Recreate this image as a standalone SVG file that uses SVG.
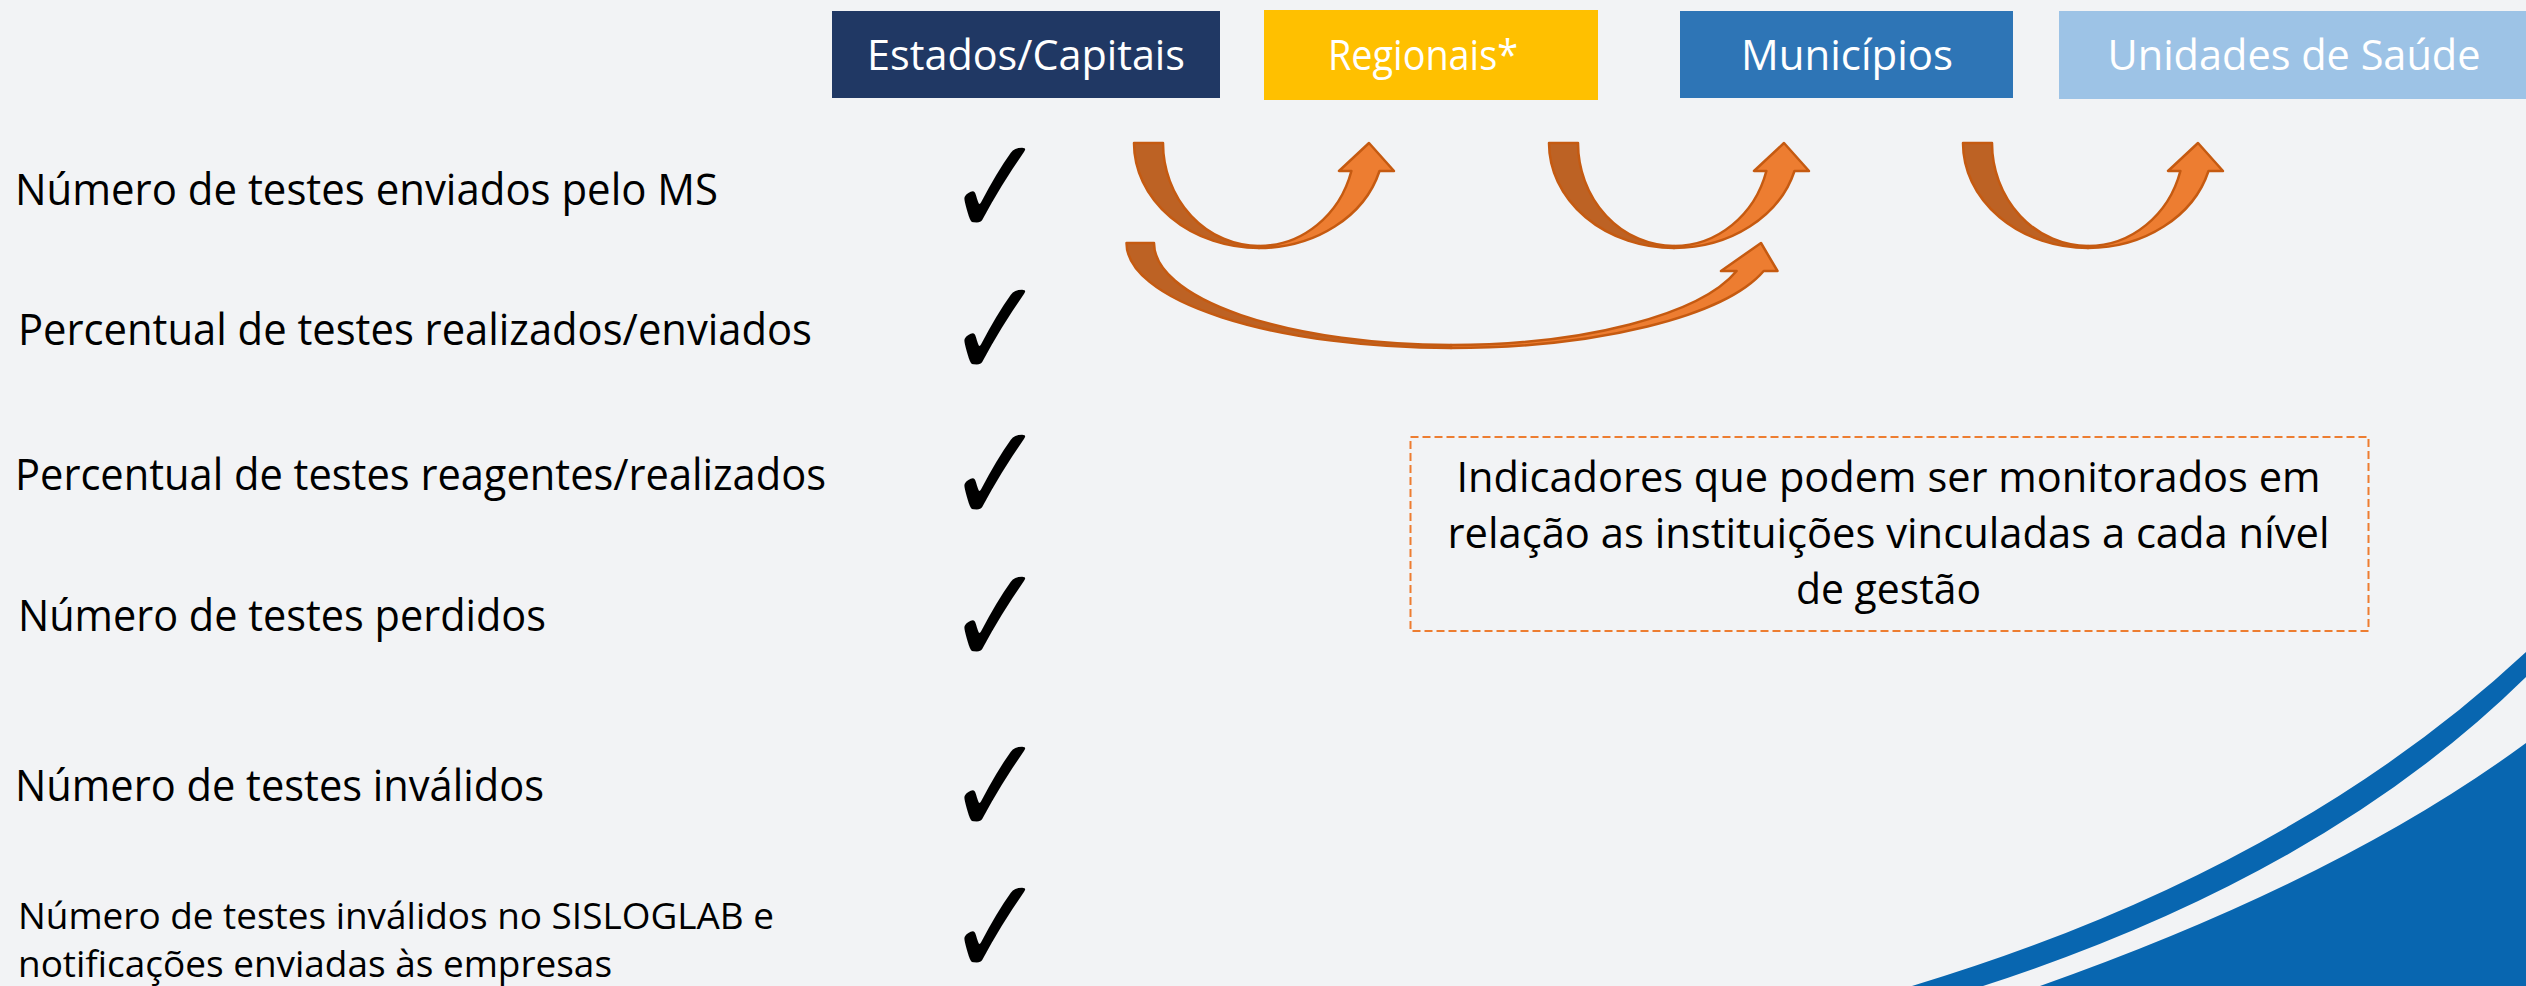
<svg xmlns="http://www.w3.org/2000/svg" xmlns:xlink="http://www.w3.org/1999/xlink" width="2526" height="986" viewBox="0 0 2526 986">
<style>
.lbl{font-family:"Open Sans","Liberation Sans",sans-serif;font-size:42px;fill:#FFFFFF;text-anchor:middle}
.ind{font-family:"Open Sans","Liberation Sans",sans-serif;font-size:43px;fill:#000000}
.ind2{font-family:"Open Sans","Liberation Sans",sans-serif;font-size:36px;fill:#000000}
.note{font-family:"Open Sans","Liberation Sans",sans-serif;font-size:42px;fill:#000000;text-anchor:middle}
.chk{font-family:"DejaVu Sans",sans-serif;font-weight:bold;font-size:140px;fill:#000000;text-anchor:middle}
.dark{fill:#BD6224;stroke:#C55A11;stroke-width:2.5;stroke-linejoin:round}
.light{fill:#ED7D31;stroke:#C55A11;stroke-width:2.5;stroke-linejoin:round}
</style>
<defs>
<g id="uarrow">
<path class="dark" d="M1134,143 A125,105 0 0 0 1259,248 L1259,246 A96,103 0 0 1 1163,143 Z"/>
<path class="light" d="M1259,248 A125,105 0 0 0 1379.5,171 L1394,171 L1369,143 L1339,171 L1351.4,171 A96,103 0 0 1 1259,246 Z"/>
</g>
</defs>
<rect x="0" y="0" width="2526" height="986" fill="#F2F3F5"/>
<g id="swoosh">
<path d="M1912,986 Q2290,872 2526,652 L2526,677 Q2325,875 1983,986 Z" fill="#0866B0"/>
<path d="M2040,986 Q2340,880 2526,743 L2526,986 Z" fill="#0866B0"/>
</g>
<g id="node-estados">
<rect x="832" y="11" width="388" height="87" fill="#203864"/>
<text class="lbl" x="1026" y="70" textLength="318" lengthAdjust="spacingAndGlyphs">Estados/Capitais</text>
</g>
<g id="node-regionais">
<rect x="1264" y="10" width="334" height="90" fill="#FFC000"/>
<text class="lbl" x="1423" y="70" textLength="190" lengthAdjust="spacingAndGlyphs">Regionais*</text>
</g>
<g id="node-municipios">
<rect x="1680" y="11" width="333" height="87" fill="#2E75B6"/>
<text class="lbl" x="1847" y="70" textLength="212" lengthAdjust="spacingAndGlyphs">Municípios</text>
</g>
<g id="node-unidades">
<rect x="2059" y="11" width="467" height="88" fill="#9DC3E6"/>
<text class="lbl" x="2294" y="70" textLength="373" lengthAdjust="spacingAndGlyphs">Unidades de Saúde</text>
</g>
<g id="connectors">
<use xlink:href="#uarrow" href="#uarrow"/>
<use xlink:href="#uarrow" href="#uarrow" transform="translate(415,0)"/>
<use xlink:href="#uarrow" href="#uarrow" transform="translate(829,0)"/>
<path class="dark" d="M1126.5,243 A324.5,105 0 0 0 1451,348 L1451,345 A297,102 0 0 1 1154,243 Z"/>
<path class="light" d="M1451,348 A324.5,105 0 0 0 1763.7,271 L1777.5,271 L1761,243 L1721,271 L1736.6,271 A297,102 0 0 1 1451,345 Z"/>
</g>
<g id="indicators">
<text class="ind" x="15" y="205" textLength="703" lengthAdjust="spacingAndGlyphs">Número de testes enviados pelo MS</text>
<text class="ind" x="18" y="345" textLength="794" lengthAdjust="spacingAndGlyphs">Percentual de testes realizados/enviados</text>
<text class="ind" x="15" y="490" textLength="811" lengthAdjust="spacingAndGlyphs">Percentual de testes reagentes/realizados</text>
<text class="ind" x="18" y="631" textLength="528" lengthAdjust="spacingAndGlyphs">Número de testes perdidos</text>
<text class="ind" x="15" y="801" textLength="529" lengthAdjust="spacingAndGlyphs">Número de testes inválidos</text>
<text class="ind2" x="18" y="929" textLength="756" lengthAdjust="spacingAndGlyphs">Número de testes inválidos no SISLOGLAB e</text>
<text class="ind2" x="18" y="977" textLength="594" lengthAdjust="spacingAndGlyphs">notificações enviadas às empresas</text>
</g>
<g id="checks">
<text class="chk" transform="translate(996,236) scale(0.84,1)">✓</text>
<text class="chk" transform="translate(996,378) scale(0.84,1)">✓</text>
<text class="chk" transform="translate(996,523) scale(0.84,1)">✓</text>
<text class="chk" transform="translate(996,665) scale(0.84,1)">✓</text>
<text class="chk" transform="translate(996,835) scale(0.84,1)">✓</text>
<text class="chk" transform="translate(996,976) scale(0.84,1)">✓</text>
</g>
<g id="node-note">
<rect x="1410.5" y="437" width="958" height="194" fill="none" stroke="#ED7D31" stroke-width="2" stroke-dasharray="8 4"/>
<text class="note" x="1888.5" y="492" textLength="864" lengthAdjust="spacingAndGlyphs">Indicadores que podem ser monitorados em</text>
<text class="note" x="1888.5" y="548" textLength="882" lengthAdjust="spacingAndGlyphs">relação as instituições vinculadas a cada nível</text>
<text class="note" x="1888.5" y="604" textLength="185" lengthAdjust="spacingAndGlyphs">de gestão</text>
</g>
</svg>
